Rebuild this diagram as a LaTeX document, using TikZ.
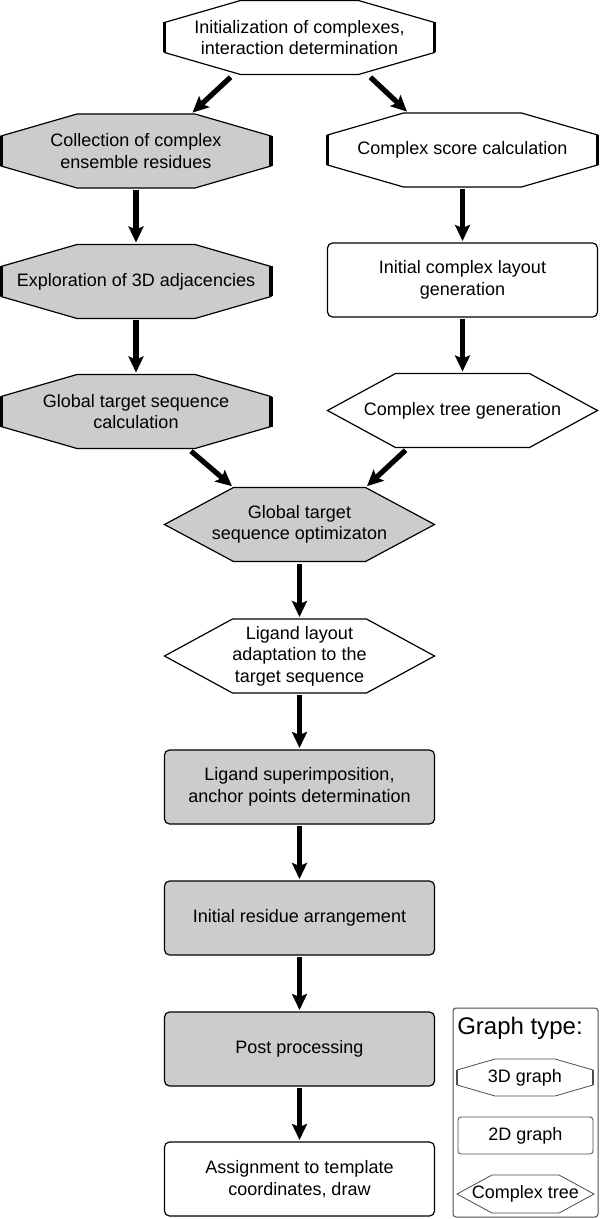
\documentclass[tikz,border=0pt]{standalone}
\usepackage{fontspec}
\setmainfont{Liberation Sans}
\usetikzlibrary{arrows.meta, positioning, calc, backgrounds}

\colorlet{boxgray}{black!20}

% octagon (3D graph) behind a node: fill, node, chamfer, half side
\newcommand{\octagonbg}[4]{%
  \filldraw[outline, fill=#1] ([xshift=#3]#2.north west) -- ([xshift=-#3]#2.north east)
    -- ([yshift=#4]#2.east) -- ([yshift=-#4]#2.east)
    -- ([xshift=-#3]#2.south east) -- ([xshift=#3]#2.south west)
    -- ([yshift=-#4]#2.west) -- ([yshift=#4]#2.west) -- cycle;
  \draw[sideline] ([yshift=#4]#2.west) -- ([yshift=-#4]#2.west)
    ([yshift=#4]#2.east) -- ([yshift=-#4]#2.east);
}
% hexagon (complex tree) behind a node: fill, node, inset
\newcommand{\hexagonbg}[3]{%
  \filldraw[outline, fill=#1] ([xshift=#3]#2.north west) -- ([xshift=-#3]#2.north east)
    -- (#2.east) -- ([xshift=-#3]#2.south east) -- ([xshift=#3]#2.south west)
    -- (#2.west) -- cycle;
}

\begin{document}
\begin{tikzpicture}[x=0.5pt, y=-0.5pt,
  box/.style={minimum width=135pt, minimum height=37pt, inner sep=0pt, outer sep=0pt, align=center, font=\fontsize{9}{10.8}\selectfont},
  rbox/.style={box, draw, line width=0.6pt, rounded corners=2.5pt},
  outline/.style={draw, line width=0.6pt},
  sideline/.style={line width=1.6pt},
  flow/.style={-{Stealth[length=8pt, width=7.5pt, inset=1.5pt]}, line width=2.6pt, shorten <=1pt, shorten >=1pt}
]
  \useasboundingbox (0,0) rectangle (600,1219);

  % left: 3D graphs, right: complexes
  \node[box] (init) at (299.5,37.5) {Initialization of complexes,\\ interaction determination};
  \node[box] (coll) at (136,151) {Collection of complex\\ ensemble residues};
  \node[box] (score) at (462.5,150) {Complex score calculation};
  \node[box] (expl) at (136,281.5) {Exploration of 3D adjacencies};
  \node[rbox, fill=white] (layout) at (462.5,280) {Initial complex layout\\ generation};
  \node[box] (gcalc) at (136,411.5) {Global target sequence\\ calculation};
  \node[box] (tree) at (462.5,410.5) {Complex tree generation};

  % middle column
  \node[box] (opt) at (299.5,524.5) {Global target\\ sequence optimizaton};
  \node[box] (lig) at (299.5,656) {Ligand layout\\ adaptation to the\\ target sequence};
  \node[rbox, fill=boxgray] (sup) at (299.5,787) {Ligand superimposition,\\ anchor points determination};
  \node[rbox, fill=boxgray] (resid) at (299.5,918) {Initial residue arrangement};
  \node[rbox, fill=boxgray] (post) at (299.5,1049) {Post processing};
  \node[rbox, fill=white] (assign) at (299.5,1179) {Assignment to template\\ coordinates, draw};

  % legend
  \node[draw=black!70, line width=0.5pt, rounded corners=1.5pt, minimum width=72.5pt, minimum height=104.5pt, inner sep=0pt] (legend) at (525.5,1112.5) {};
  \node[font=\fontsize{12}{14}\selectfont, inner sep=0pt] (ltitle) at (520,1028) {Graph type:};
  \node[box, minimum width=68pt, minimum height=18.5pt] (l3d) at (525,1077.5) {3D graph};
  \node[box, minimum width=67.5pt, minimum height=18.5pt, draw=black!70, line width=0.4pt, rounded corners=1.5pt] (l2d) at (525.5,1135.5) {2D graph};
  \node[box, minimum width=68.5pt, minimum height=19pt] (ltree) at (525.5,1194) {Complex tree};

  \begin{pgfonlayer}{background}
    \octagonbg{white}{init}{38pt}{7.5pt}
    \octagonbg{boxgray}{coll}{38pt}{7.5pt}
    \octagonbg{white}{score}{38pt}{7.5pt}
    \octagonbg{boxgray}{expl}{38pt}{7.5pt}
    \octagonbg{boxgray}{gcalc}{38pt}{7.5pt}
    \hexagonbg{white}{tree}{34pt}
    \hexagonbg{boxgray}{opt}{34.5pt}
    \hexagonbg{white}{lig}{34pt}
    \begin{scope}[outline/.style={draw=black!70, line width=0.4pt}, sideline/.style={draw=black!70, line width=1pt}]
      \octagonbg{white}{l3d}{19pt}{3.75pt}
      \hexagonbg{white}{ltree}{17.5pt}
    \end{scope}
  \end{pgfonlayer}

  \draw[flow, shorten <=2pt] ([xshift=-33pt]init.south) -- ([xshift=-40pt]coll.north east);
  \draw[flow, shorten <=2pt] ([xshift=34pt]init.south) -- ([xshift=40.5pt]score.north west);
  \draw[flow] (coll) -- (expl);
  \draw[flow] (expl) -- (gcalc);
  \draw[flow] (score) -- (layout);
  \draw[flow] (layout) -- (tree);
  \draw[flow, shorten <=2pt] ([xshift=26pt]gcalc.south) -- ([xshift=34.5pt]opt.north west);
  \draw[flow, shorten <=2pt] ([xshift=-27pt]tree.south) -- ([xshift=-34.5pt]opt.north east);
  \draw[flow] (opt) -- (lig);
  \draw[flow] (lig) -- (sup);
  \draw[flow] (sup) -- (resid);
  \draw[flow] (resid) -- (post);
  \draw[flow] (post) -- (assign);
\end{tikzpicture}
\end{document}
